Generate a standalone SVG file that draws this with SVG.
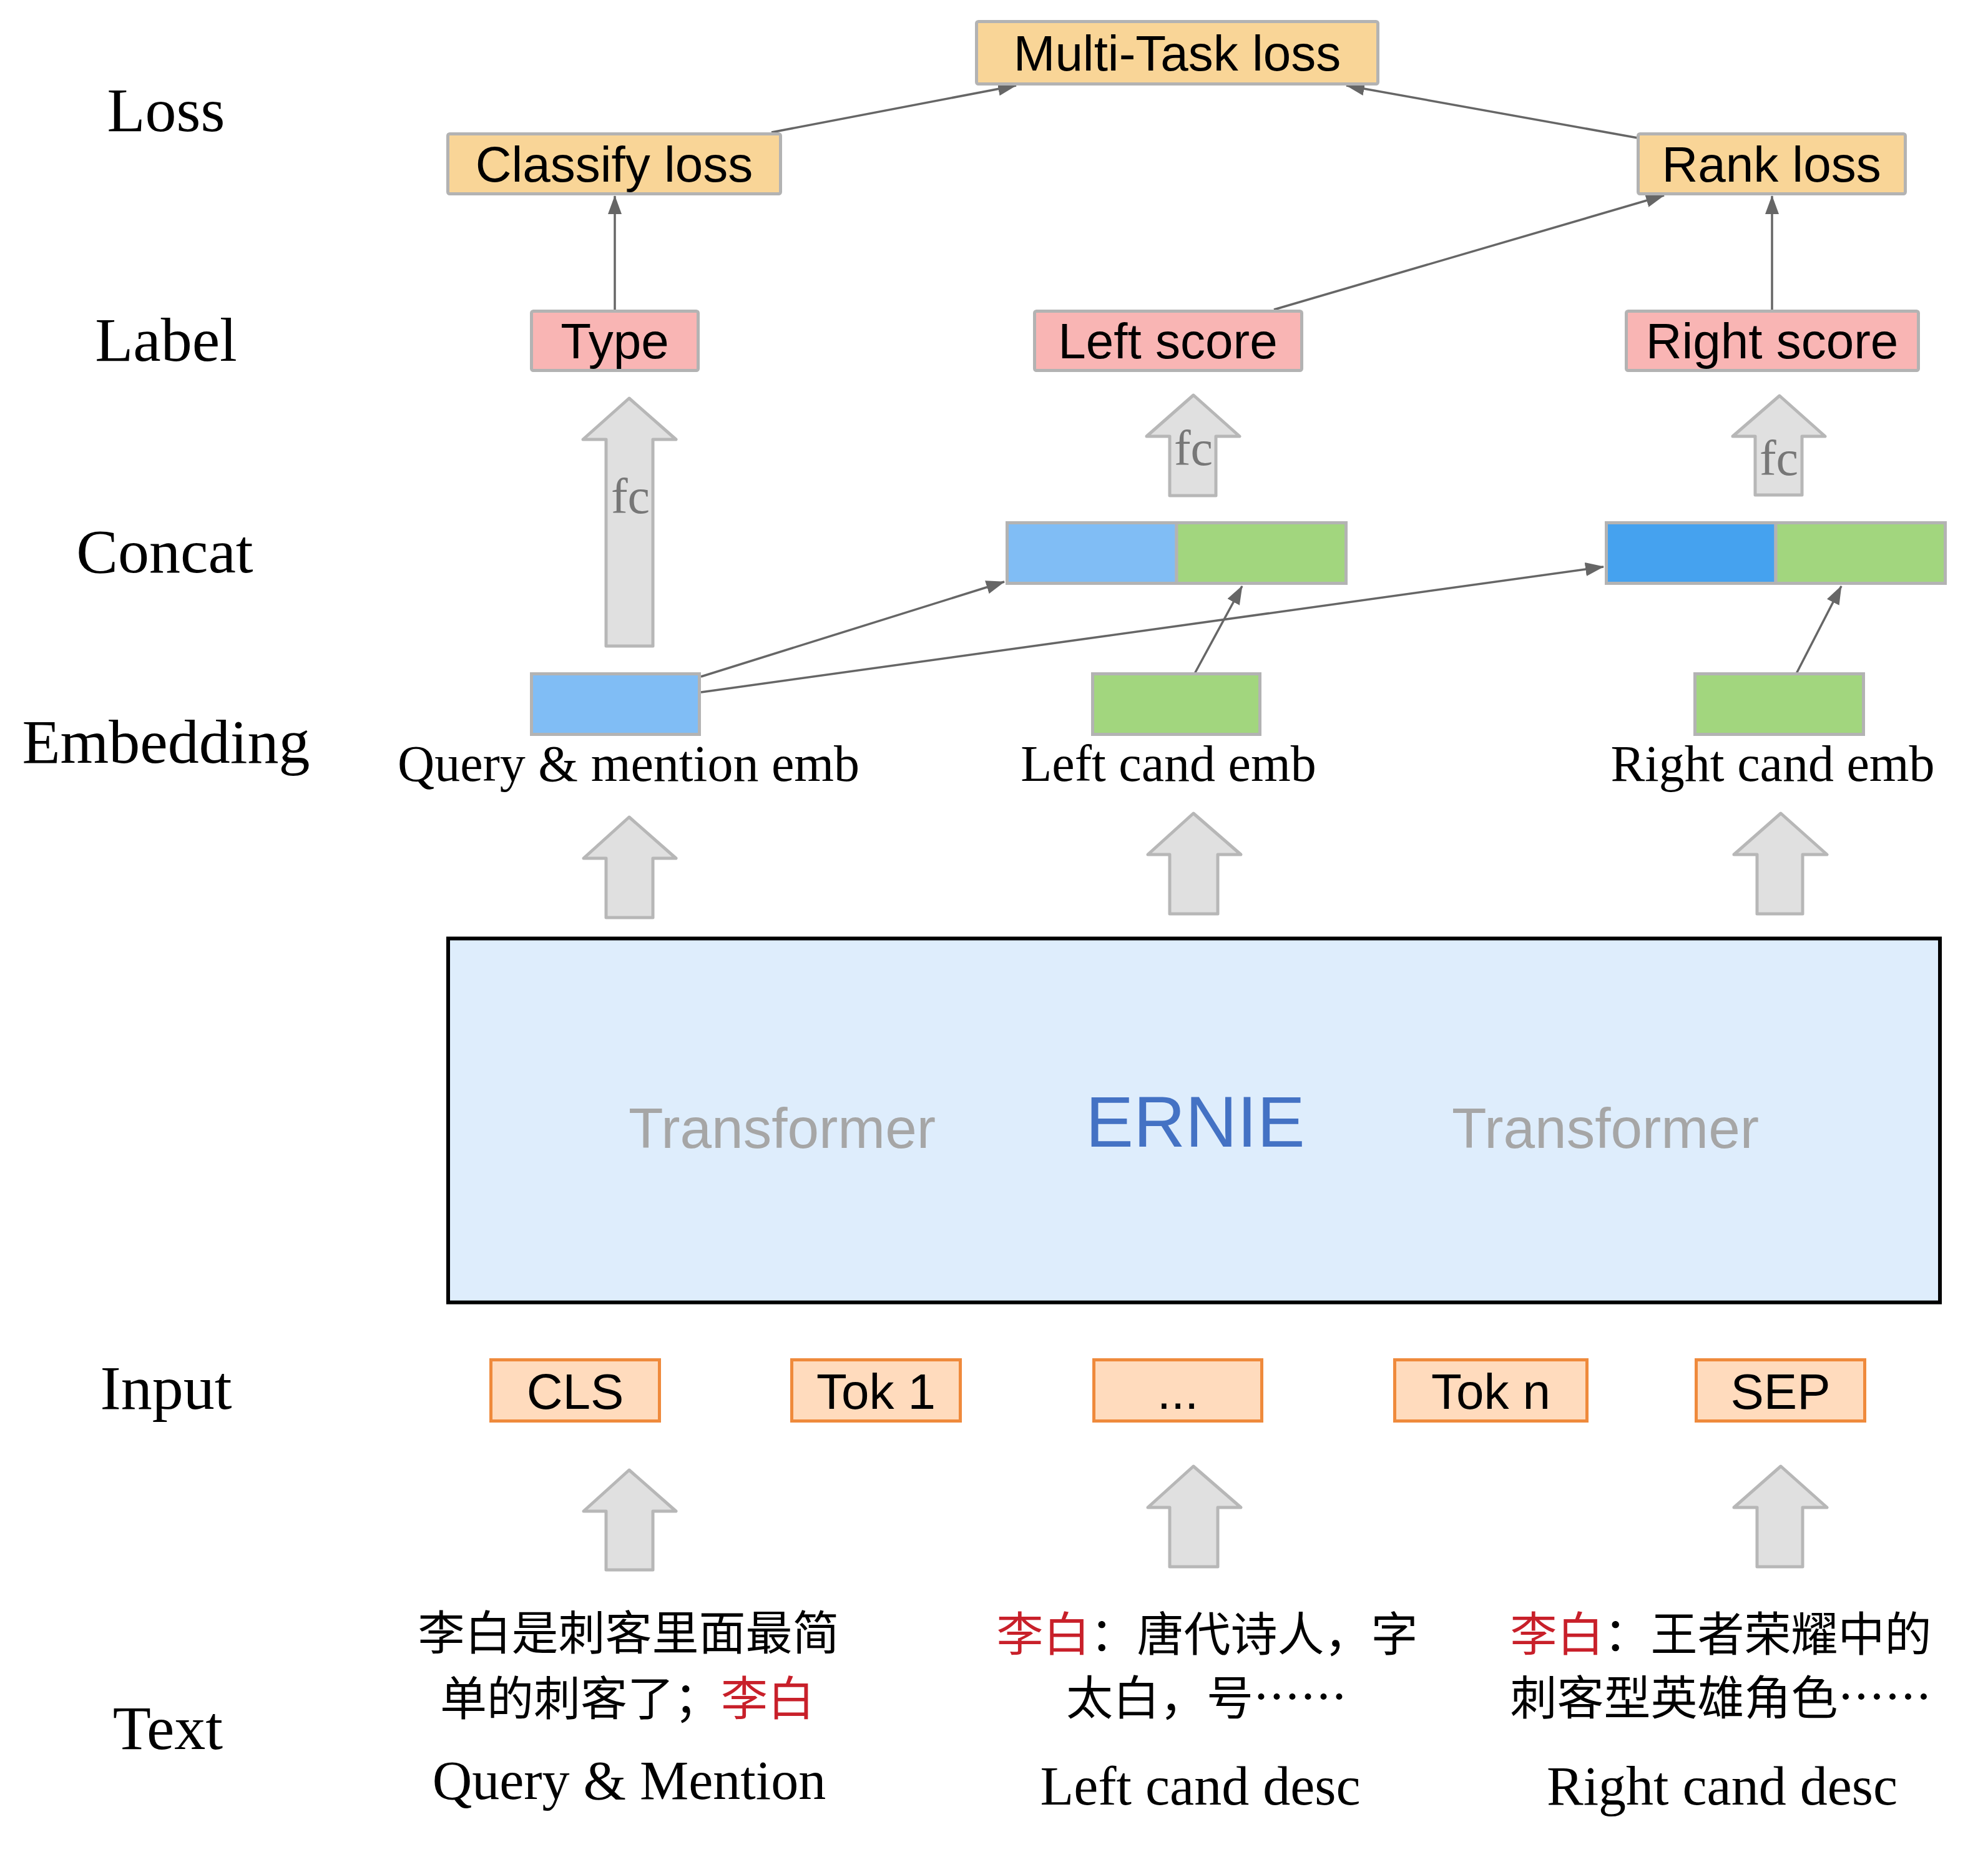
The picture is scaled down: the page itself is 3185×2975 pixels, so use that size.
<svg xmlns="http://www.w3.org/2000/svg" width="3185" height="2975" viewBox="0 0 3185 2975">
<style>
.row{font-family:"Liberation Serif","DejaVu Serif",serif;font-size:100px;fill:#000;text-anchor:middle}
.lbl{font-family:"Liberation Sans",Arial,sans-serif;font-size:80px;fill:#000;text-anchor:middle}
.emb{font-family:"Liberation Serif","DejaVu Serif",serif;font-size:82px;fill:#000;text-anchor:middle}
.desc{font-family:"Liberation Serif","DejaVu Serif",serif;font-size:88px;fill:#000;text-anchor:middle}
.cn{font-family:"Noto Sans CJK SC","Noto Sans CJK JP",sans-serif;font-size:75px;fill:#000;text-anchor:middle}
.red{fill:#c8202a}
.fc{font-family:"Liberation Serif","DejaVu Serif",serif;font-size:80px;fill:#777;text-anchor:middle}
.loss{fill:#f9d597;stroke:#b3b3b3;stroke-width:5}
.score{fill:#f9b5b4;stroke:#b3b3b3;stroke-width:5}
.lb{fill:#80bdf5;stroke:#b3b3b3;stroke-width:5}
.db{fill:#45a2ef;stroke:#b3b3b3;stroke-width:5}
.gr{fill:#a2d67e;stroke:#b3b3b3;stroke-width:5}
.tok{fill:#ffdbbd;stroke:#ef8a3c;stroke-width:5}
.blk{fill:#e0e0e0;stroke:#b7b7b7;stroke-width:5;stroke-linejoin:round}
.con{stroke:#666;stroke-width:3.5;fill:none}
</style>
<defs>
<marker id="ah" viewBox="0 0 30 22" refX="29" refY="11" markerWidth="30" markerHeight="22" markerUnits="userSpaceOnUse" orient="auto">
<path d="M0,0 L30,11 L0,22 z" fill="#666"/>
</marker>
</defs>
<rect width="3185" height="2975" fill="#fff"/>

<g id="row-labels">
<text class="row" x="266" y="210">Loss</text>
<text class="row" x="266" y="578">Label</text>
<text class="row" x="264" y="917">Concat</text>
<text class="row" x="266" y="1222">Embedding</text>
<text class="row" x="266" y="2257">Input</text>
<text class="row" x="269" y="2802">Text</text>
</g>

<g id="connectors">
<line class="con" x1="1236" y1="212" x2="1628" y2="137" marker-end="url(#ah)"/>
<line class="con" x1="2624" y1="221" x2="2157" y2="137" marker-end="url(#ah)"/>
<line class="con" x1="985" y1="496" x2="985" y2="314" marker-end="url(#ah)"/>
<line class="con" x1="2041" y1="496" x2="2666" y2="313" marker-end="url(#ah)"/>
<line class="con" x1="2839" y1="496" x2="2839" y2="314" marker-end="url(#ah)"/>
<line class="con" x1="1123" y1="1084" x2="1609" y2="932" marker-end="url(#ah)"/>
<line class="con" x1="1123" y1="1109" x2="2569" y2="908" marker-end="url(#ah)"/>
<line class="con" x1="1914" y1="1079" x2="1990" y2="939" marker-end="url(#ah)"/>
<line class="con" x1="2878" y1="1079" x2="2950" y2="939" marker-end="url(#ah)"/>
</g>

<g id="multitask-loss">
<rect class="loss" x="1564.5" y="34.5" width="643" height="100" rx="3"/>
<text class="lbl" x="1886" y="113">Multi-Task loss</text>
</g>
<g id="classify-loss">
<rect class="loss" x="717.5" y="214.5" width="533" height="96" rx="3"/>
<text class="lbl" x="984" y="291">Classify loss</text>
</g>
<g id="rank-loss">
<rect class="loss" x="2624.5" y="214.5" width="428" height="96" rx="3"/>
<text class="lbl" x="2838" y="291">Rank loss</text>
</g>

<g id="type">
<rect class="score" x="851.5" y="498.5" width="267" height="95" rx="3"/>
<text class="lbl" x="985" y="574">Type</text>
</g>
<g id="left-score">
<rect class="score" x="1657.5" y="498.5" width="428" height="95" rx="3"/>
<text class="lbl" x="1871" y="574">Left score</text>
</g>
<g id="right-score">
<rect class="score" x="2605.5" y="498.5" width="468" height="95" rx="3"/>
<text class="lbl" x="2839" y="574">Right score</text>
</g>

<g id="fc-query">
<polygon class="blk" points="1008,638 1083,704 1046,704 1046,1035 971,1035 971,704 934,704"/>
<text class="fc" x="1010" y="822">fc</text>
</g>
<g id="fc-left">
<polygon class="blk" points="1912,633 1986,699 1948,699 1948,794 1874,794 1874,699 1837,699"/>
<text class="fc" x="1912" y="745">fc</text>
</g>
<g id="fc-right">
<polygon class="blk" points="2851,634 2924,699 2887,699 2887,793 2812,793 2812,699 2776,699"/>
<text class="fc" x="2850" y="761">fc</text>
</g>

<g id="concat-left">
<rect class="lb" x="1613.5" y="837.5" width="271.5" height="97"/>
<rect class="gr" x="1885" y="837.5" width="271.5" height="97"/>
</g>
<g id="concat-right">
<rect class="db" x="2573.5" y="837.5" width="271.5" height="97"/>
<rect class="gr" x="2845" y="837.5" width="271.5" height="97"/>
</g>

<g id="query-emb">
<rect class="lb" x="851.5" y="1079.5" width="269" height="97"/>
<text class="emb" x="1007" y="1251">Query &amp; mention emb</text>
</g>
<g id="left-cand-emb">
<rect class="gr" x="1750.5" y="1079.5" width="268" height="97"/>
<text class="emb" x="1872" y="1251">Left cand emb</text>
</g>
<g id="right-cand-emb">
<rect class="gr" x="2715.5" y="1079.5" width="270" height="97"/>
<text class="emb" x="2840" y="1251">Right cand emb</text>
</g>

<g id="up-arrows-ernie">
<polygon class="blk" points="1008,1309 1083,1375 1046,1375 1046,1470 971,1470 971,1375 935,1375"/>
<polygon class="blk" points="1912,1303 1988,1369 1951,1369 1951,1464 1874,1464 1874,1369 1839,1369"/>
<polygon class="blk" points="2853,1303 2927,1369 2888,1369 2888,1464 2815,1464 2815,1369 2778,1369"/>
</g>

<g id="ernie">
<rect x="718" y="1503.5" width="2390" height="583" fill="#deedfc" stroke="#000" stroke-width="6"/>
<text x="1253" y="1839" font-family="Liberation Sans,Arial,sans-serif" font-size="91" fill="#a6a6a6" text-anchor="middle">Transformer</text>
<text x="1915" y="1837" font-family="Liberation Sans,Arial,sans-serif" font-size="115" fill="#4472c4" text-anchor="middle">ERNIE</text>
<text x="2572" y="1839" font-family="Liberation Sans,Arial,sans-serif" font-size="91" fill="#a6a6a6" text-anchor="middle">Transformer</text>
</g>

<g id="tok-cls">
<rect class="tok" x="786.5" y="2178.5" width="270" height="98"/>
<text class="lbl" x="921.5" y="2257">CLS</text>
</g>
<g id="tok-1">
<rect class="tok" x="1268.5" y="2178.5" width="270" height="98"/>
<text class="lbl" x="1403.5" y="2257">Tok 1</text>
</g>
<g id="tok-dots">
<rect class="tok" x="1752.5" y="2178.5" width="269" height="98"/>
<text class="lbl" x="1887" y="2257">...</text>
</g>
<g id="tok-n">
<rect class="tok" x="2234.5" y="2178.5" width="308" height="98"/>
<text class="lbl" x="2388.5" y="2257">Tok n</text>
</g>
<g id="tok-sep">
<rect class="tok" x="2717.5" y="2178.5" width="270" height="98"/>
<text class="lbl" x="2852.5" y="2257">SEP</text>
</g>

<g id="up-arrows-input">
<polygon class="blk" points="1008,2355 1083,2421 1046,2421 1046,2515 971,2515 971,2421 935,2421"/>
<polygon class="blk" points="1912,2349 1988,2415 1951,2415 1951,2510 1874,2510 1874,2415 1839,2415"/>
<polygon class="blk" points="2853,2349 2927,2415 2888,2415 2888,2510 2815,2510 2815,2415 2778,2415"/>
</g>

<g id="text-query">
<text class="cn" x="1007" y="2643">李白是刺客里面最简</text>
<text class="cn" x="1005" y="2748">单的刺客了；<tspan class="red">李白</tspan></text>
<text class="desc" x="1008" y="2882">Query &amp; Mention</text>
</g>
<g id="text-left">
<text class="cn" x="1934" y="2645"><tspan class="red">李白</tspan>：唐代诗人，字</text>
<text class="cn" x="1933" y="2747">太白，号……</text>
<text class="desc" x="1923" y="2891">Left cand desc</text>
</g>
<g id="text-right">
<text class="cn" x="2757" y="2645"><tspan class="red">李白</tspan>：王者荣耀中的</text>
<text class="cn" x="2757" y="2747">刺客型英雄角色……</text>
<text class="desc" x="2759" y="2891">Right cand desc</text>
</g>
</svg>
